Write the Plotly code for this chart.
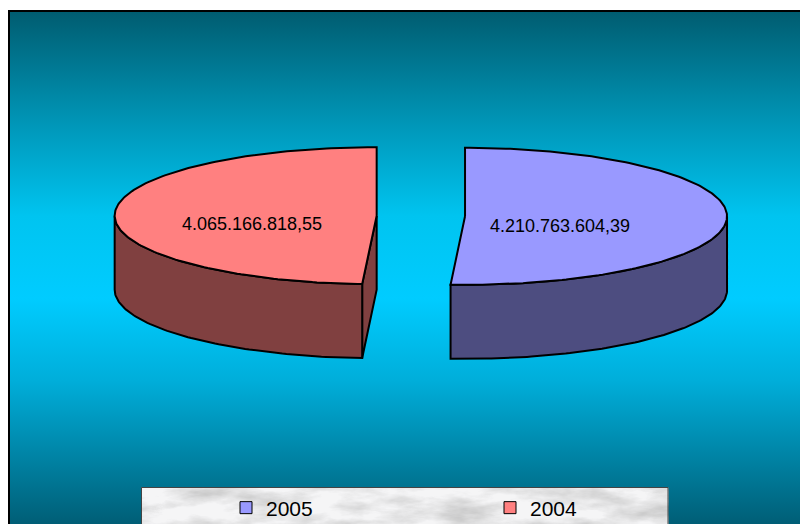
import base64
import numpy as np
import plotly.graph_objects as go

# ---------------- data ----------------
categories = ["2005", "2004"]
values = [4210763604.39, 4065166818.55]

# ---------------- style ----------------
W, H = 800, 524              # window / figure size
FONT = "Arial, Liberation Sans, sans-serif"
TOP_COLORS = {"2005": "#9999FF", "2004": "#FF8080"}
SIDE_COLORS = {"2005": "#4D4D80", "2004": "#804040"}
CX0, CY0 = 420.85, 216.0     # pie centre (px)
A, B = 262.0, 68.5           # ellipse semi-axes (px)
DEPTH = 74.0                 # pie thickness (px)
EXPLODE = 44.2               # explosion distance (px)
LABEL_R = 0.42
LABEL_DX = -15
LABEL_DY = 9


def eu_format(v):
    s = f"{v:,.2f}"
    return s.replace(",", "X").replace(".", ",").replace("X", ".")


def pt(cx, cy, th, r=1.0, dz=0.0):
    t = np.radians(th)
    return cx + A * r * np.sin(t), cy - B * r * np.cos(t) + dz


def arc(cx, cy, t1, t2, dz=0.0):
    ths = np.linspace(t1, t2, max(int(abs(t2 - t1)) + 2, 3))
    xs, ys = pt(cx, cy, ths, 1.0, dz)
    return list(xs), list(ys)


def px(x):
    return x / W


def py(y):
    return 1 - y / H


fig = go.Figure()
line = dict(color="black", width=2)

total = float(sum(values))
start = 0.0
label_ann = []
for cat, v in zip(categories, values):
    frac = v / total
    t1, t2 = start * 360.0, (start + frac) * 360.0
    start += frac
    mid = (t1 + t2) / 2.0
    cx = CX0 + EXPLODE * np.sin(np.radians(mid))
    cy = CY0 - EXPLODE * (B / A) * np.cos(np.radians(mid))

    # radial cut faces
    for th, visible in ((t1, np.sin(np.radians(t1)) < -1e-6),
                        (t2, np.sin(np.radians(t2)) > 1e-6)):
        if visible:
            ex, ey = pt(cx, cy, th)
            fig.add_trace(go.Scatter(
                x=[cx, ex, ex, cx, cx], y=[cy, ey, ey + DEPTH, cy + DEPTH, cy],
                mode="lines", fill="toself", fillcolor=SIDE_COLORS[cat],
                line=line, hoverinfo="skip", showlegend=False))

    # front wall
    a1, a2 = max(t1, 90.0), min(t2, 270.0)
    if a2 > a1:
        tx, ty = arc(cx, cy, a1, a2)
        bx, by = arc(cx, cy, a2, a1, DEPTH)
        fig.add_trace(go.Scatter(
            x=tx + bx + [tx[0]], y=ty + by + [ty[0]],
            mode="lines", fill="toself", fillcolor=SIDE_COLORS[cat],
            line=line, hoverinfo="skip", showlegend=False))

    # top face
    ax_, ay_ = arc(cx, cy, t1, t2)
    fig.add_trace(go.Scatter(
        x=[cx] + ax_ + [cx], y=[cy] + ay_ + [cy],
        mode="lines", fill="toself", fillcolor=TOP_COLORS[cat],
        line=line, name=cat, hoveron="fills",
        text=f"{cat}: {eu_format(v)}", hoverinfo="text", showlegend=False))

    lx, ly = pt(cx, cy, mid, LABEL_R)
    label_ann.append(dict(x=lx + LABEL_DX, y=ly + LABEL_DY, xref="x", yref="y",
                          text=eu_format(v), showarrow=False,
                          font=dict(family=FONT, size=18, color="black")))

# legend entries
for cat in categories:
    fig.add_trace(go.Scatter(
        x=[None], y=[None], mode="markers", name=cat,
        marker=dict(symbol="square", size=12, color=TOP_COLORS[cat],
                    line=dict(color="black", width=1))))

# background gradient & marble legend box
grad_svg = (
    '<svg xmlns="http://www.w3.org/2000/svg" width="800" height="513" '
    'preserveAspectRatio="none"><defs><linearGradient id="g" x1="0" y1="0" '
    'x2="0" y2="1">'
    '<stop offset="0" stop-color="#005C70"/>'
    '<stop offset="0.23" stop-color="#0099BB"/>'
    '<stop offset="0.40" stop-color="#00C4F0"/>'
    '<stop offset="0.56" stop-color="#00CCFF"/>'
    '<stop offset="0.72" stop-color="#00AEDA"/>'
    '<stop offset="1" stop-color="#005E76"/>'
    '</linearGradient></defs>'
    '<rect width="800" height="513" fill="url(#g)"/></svg>')
marble_svg = (
    '<svg xmlns="http://www.w3.org/2000/svg" width="527" height="50">'
    '<filter id="f" x="0" y="0" width="100%" height="100%" '
    'color-interpolation-filters="sRGB">'
    '<feTurbulence type="fractalNoise" baseFrequency="0.02 0.06" '
    'numOctaves="5" seed="11" result="n"/>'
    '<feColorMatrix in="n" type="matrix" values="0 0 0 0 0.96 0 0 0 0 0.96 '
    '0 0 0 0 0.965 1.7 0 0 0 -0.1"/></filter>'
    '<rect width="527" height="50" fill="#c2c2c2"/>'
    '<rect width="527" height="50" filter="url(#f)"/></svg>')


def uri(s):
    return "data:image/svg+xml;base64," + base64.b64encode(s.encode()).decode()


images = [
    dict(source=uri(grad_svg), xref="paper", yref="paper", x=px(9), y=py(11),
         sizex=(W - 9) / W, sizey=(H - 11) / H, xanchor="left",
         yanchor="top", sizing="stretch", layer="below"),
    dict(source=uri(marble_svg), xref="paper", yref="paper", x=px(141.5),
         y=py(487.5), sizex=527 / W, sizey=50 / H, xanchor="left",
         yanchor="top", sizing="stretch", layer="below"),
]

shapes = [
    dict(type="rect", xref="x", yref="y", x0=141.5, x1=668, y0=487.5, y1=540,
         line=dict(color="#444444", width=1)),
    dict(type="rect", xref="x", yref="y", x0=9, x1=820, y0=11, y1=540,
         line=dict(color="black", width=2)),
]

fig.update_layout(
    width=W, height=H,
    margin=dict(l=0, r=0, t=0, b=0, pad=0, autoexpand=False),
    paper_bgcolor="white", plot_bgcolor="rgba(0,0,0,0)",
    xaxis=dict(range=[0, W], visible=False, fixedrange=True),
    yaxis=dict(range=[H, 0], visible=False, fixedrange=True),
    images=images, shapes=shapes, annotations=label_ann,
    showlegend=True,
    legend=dict(orientation="h", x=px(226), y=py(508), xanchor="left",
                yanchor="middle", bgcolor="rgba(0,0,0,0)", borderwidth=0,
                font=dict(family=FONT, size=21, color="black"),
                entrywidth=219, entrywidthmode="pixels", itemwidth=30),
    font=dict(family=FONT),
)

fig.write_html("out.html", config={"displayModeBar": False},
               post_script="document.body.style.margin='0';"
                           "document.body.style.overflow='hidden';")
